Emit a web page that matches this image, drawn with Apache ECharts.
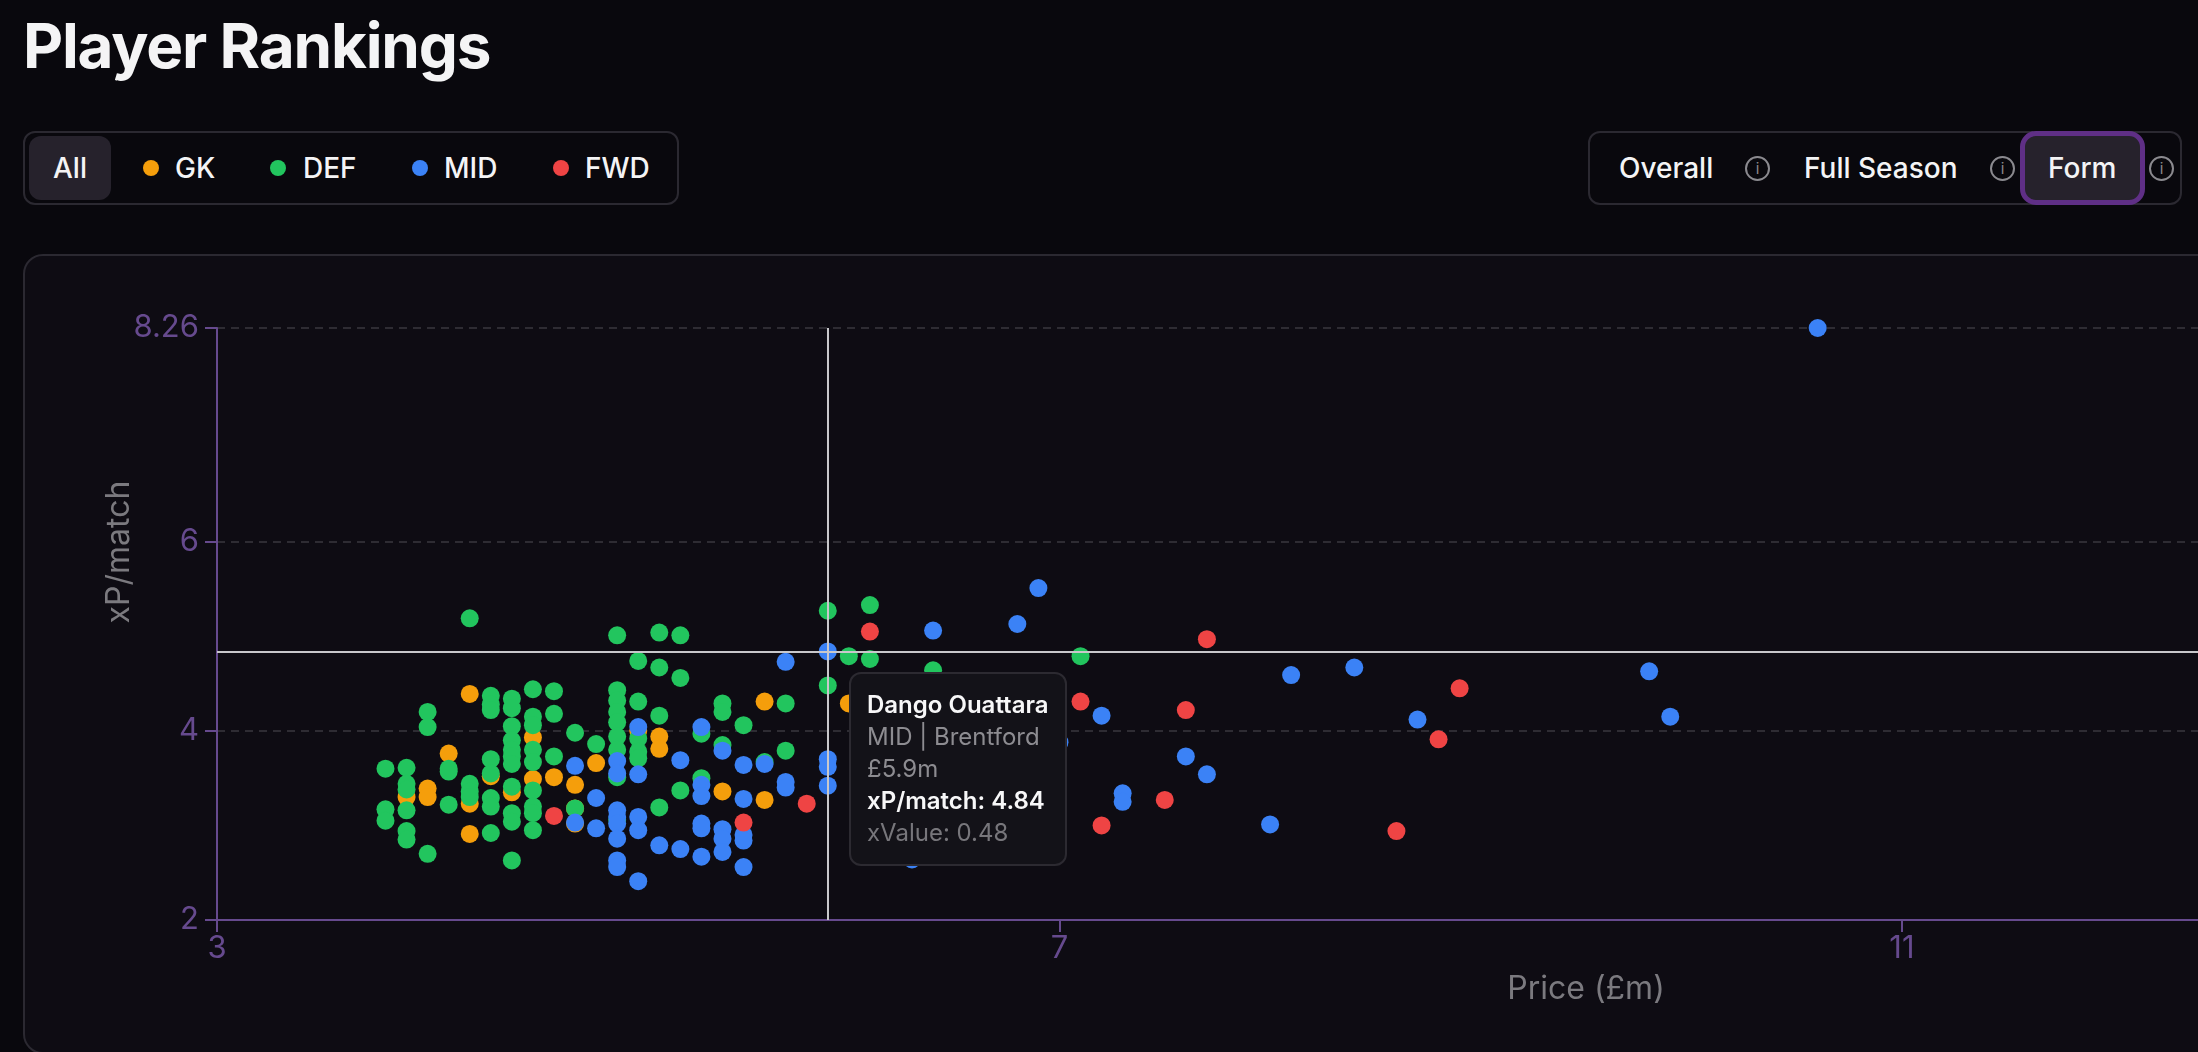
<!DOCTYPE html>
<html>
<head>
<meta charset="utf-8">
<title>Player Rankings</title>
<script src="https://cdn.jsdelivr.net/npm/echarts@6/dist/echarts.min.js"></script>
<style>
html,body{margin:0;width:2198px;height:1052px;overflow:hidden;background:#09080d;font-family:Inter,"Noto Sans",sans-serif;color:#f4f4f5}
h1{position:absolute;left:23px;top:10px;margin:0;font-size:62px;line-height:72px;font-weight:700;letter-spacing:-1.2px}
.box{position:absolute;top:131px;height:70px;border:2px solid #2b2931;border-radius:12px}
.item{position:absolute;top:168px;transform:translateY(-50%);font-size:28px;font-weight:500;line-height:32px;white-space:nowrap}
.dot{position:absolute;top:160px;width:16px;height:16px;border-radius:50%}
.info{position:absolute;top:156px;width:21px;height:21px;border:2px solid #8b8a8f;border-radius:50%;color:#8b8a8f;font-size:15px;line-height:21px;text-align:center}
#allBtn{position:absolute;left:29px;top:136px;width:82px;height:64px;border-radius:12px;background:#26222c}
#formBtn{position:absolute;left:2020px;top:131px;width:115px;height:64px;border:5px solid #5f2f86;border-radius:16px;background:#26222c}
#card{position:absolute;left:23px;top:254px;width:2400px;height:796px;background:#0e0c13;border:2px solid #2b2931;border-radius:20px}
#chart{position:absolute;left:0;top:0;width:2198px;height:1052px}
</style>
</head>
<body>
<h1>Player Rankings</h1>
<div class="box" style="left:23px;width:652px"></div>
<div id="allBtn"></div>
<div class="item" style="left:53px">All</div>
<div class="dot" style="left:143px;background:#f59e0b"></div><div class="item" style="left:175px">GK</div>
<div class="dot" style="left:270px;background:#22c55e"></div><div class="item" style="left:303px">DEF</div>
<div class="dot" style="left:412px;background:#3b82f6"></div><div class="item" style="left:444px">MID</div>
<div class="dot" style="left:553px;background:#ef4444"></div><div class="item" style="left:585px">FWD</div>

<div class="box" style="left:1588px;width:590px"></div>
<div id="formBtn"></div>
<div class="item" style="left:1619px">Overall</div><div class="info" style="left:1745px">i</div>
<div class="item" style="left:1804px">Full Season</div><div class="info" style="left:1990px">i</div>
<div class="item" style="left:2048px">Form</div><div class="info" style="left:2149px">i</div>

<div id="card"></div>
<div id="chart"></div>

<script>
'use strict'
// [price, xP/match]
const gkData = [[3.9,3.30],[4.0,3.39],[4.0,3.30],[4.1,3.76],[4.2,4.39],[4.2,3.23],[4.2,2.91],[4.3,3.52],[4.4,3.35],
    [4.5,3.93],[4.5,3.49],[4.6,3.51],[4.7,3.43],[4.7,3.18],[4.7,3.02],[4.8,3.66],[5.0,4.00],[5.1,3.94],[5.1,3.81],
    [5.4,3.36],[5.6,4.31],[5.6,3.27],[6.0,4.29]];
const defData = [[3.8,3.60],[3.8,3.17],[3.8,3.05],[3.9,3.61],[3.9,3.44],[3.9,3.38],[3.9,3.16],[3.9,2.94],[3.9,2.85],
    [4.0,4.20],[4.0,4.04],[4.0,2.70],[4.1,3.60],[4.1,3.57],[4.1,3.22],[4.2,5.19],[4.2,3.44],[4.2,3.36],[4.2,3.30],
    [4.3,4.37],[4.3,4.28],[4.3,4.22],[4.3,3.70],[4.3,3.55],[4.3,3.29],[4.3,3.20],[4.3,2.92],
    [4.4,4.34],[4.4,4.24],[4.4,4.05],[4.4,3.90],[4.4,3.80],[4.4,3.73],[4.4,3.65],[4.4,3.41],[4.4,3.13],[4.4,3.04],[4.4,2.63],
    [4.5,4.44],[4.5,4.15],[4.5,4.06],[4.5,3.80],[4.5,3.67],[4.5,3.37],[4.5,3.20],[4.5,3.13],[4.5,2.95],
    [4.6,4.42],[4.6,4.18],[4.6,3.73],[4.7,3.98],[4.7,3.18],[4.8,3.86],
    [4.9,5.01],[4.9,4.43],[4.9,4.32],[4.9,4.20],[4.9,4.09],[4.9,3.94],[4.9,3.80],[4.9,3.51],[4.9,3.06],
    [5.0,4.74],[5.0,4.31],[5.0,3.92],[5.0,3.78],[5.0,3.71],[5.1,5.04],[5.1,4.67],[5.1,4.16],[5.1,3.19],
    [5.2,5.01],[5.2,4.56],[5.2,3.37],[5.3,3.97],[5.3,3.50],[5.4,4.29],[5.4,4.20],[5.4,3.85],[5.5,4.06],
    [5.6,3.67],[5.7,4.29],[5.7,3.79],[5.9,5.27],[5.9,4.48],[6.0,4.79],[6.1,5.33],[6.1,4.76],[6.4,4.64],[7.1,4.79]];
const midData = [[4.7,3.63],[4.7,3.03],[4.8,3.29],[4.8,2.97],[4.9,3.68],[4.9,3.55],[4.9,3.16],[4.9,3.09],[4.9,3.02],[4.9,2.86],[4.9,2.63],[4.9,2.56],
    [5.0,4.04],[5.0,3.54],[5.0,3.09],[5.0,2.95],[5.0,2.41],[5.1,2.79],[5.2,3.69],[5.2,2.75],
    [5.3,4.04],[5.3,3.43],[5.3,3.31],[5.3,3.02],[5.3,2.97],[5.3,2.67],[5.4,3.79],[5.4,2.96],[5.4,2.86],[5.4,2.72],
    [5.5,3.64],[5.5,3.28],[5.5,2.90],[5.5,2.84],[5.5,2.56],[5.6,3.65],[5.7,4.73],[5.7,3.46],[5.7,3.40],
    [5.9,4.84],[5.9,3.70],[5.9,3.62],[5.9,3.42],[6.3,2.64],[6.4,5.06],[6.8,5.13],[6.9,5.51],[7.0,3.88],[7.2,4.16],
    [7.3,3.34],[7.3,3.25],[7.6,3.73],[7.7,3.54],[8.0,3.01],[8.1,4.59],[8.4,4.67],[8.7,4.12],[9.8,4.63],[9.9,4.15],[10.6,8.26]];
const fwdData = [[4.6,3.10],[5.5,3.03],[5.8,3.23],[6.1,5.05],[7.1,4.31],[7.2,3.00],[7.5,3.27],[7.6,4.22],[7.7,4.97],[8.6,2.94],[8.8,3.91],[8.9,4.45]];

const xTicks = [3, 7, 11, 15];
const yTicks = [2, 4, 6, 8.26];
const hovered = {name: 'Dango Ouattara', pos: 'MID', team: 'Brentford', price: 5.9, xp: 4.84, xValue: 0.48};

const axisColor = '#664a8e';
const nameColor = '#7b7a7f';

function dotSeries(name, color, data) {
    return {
        name: name,
        type: 'scatter',
        symbolSize: 18,
        data: data,
        itemStyle: {color: color, opacity: 1},
        emphasis: {disabled: true},
        animation: false
    };
}

const series = [
    dotSeries('GK', '#f59e0b', gkData),
    dotSeries('DEF', '#22c55e', defData),
    dotSeries('MID', '#3b82f6', midData),
    dotSeries('FWD', '#ef4444', fwdData)
];
series[3].markLine = {
    silent: true,
    symbol: 'none',
    animation: false,
    label: {show: false},
    lineStyle: {color: '#c8c8cb', width: 2, type: 'solid'},
    data: [{xAxis: hovered.price}, {yAxis: hovered.xp}]
};

const chart = echarts.init(document.getElementById('chart'));
chart.setOption({
    animation: false,
    textStyle: {fontFamily: 'Inter'},
    // the axis runs on past the right edge of the window
    grid: {left: 217, top: 328, right: -757, bottom: 132, outerBoundsMode: 'none'},
    xAxis: {
        type: 'value',
        min: 3,
        max: 16,
        name: 'Price (£m)',
        nameLocation: 'middle',
        nameGap: 53,
        nameTextStyle: {color: nameColor, fontSize: 32, fontFamily: 'Inter'},
        axisLine: {lineStyle: {color: axisColor, width: 2}},
        axisTick: {length: 12, customValues: xTicks, lineStyle: {color: axisColor, width: 2}},
        axisLabel: {customValues: xTicks, color: axisColor, fontSize: 31, margin: 13, fontFamily: 'Inter'},
        splitLine: {show: false}
    },
    yAxis: {
        type: 'value',
        min: 2,
        max: 8.26,
        name: 'xP/match',
        nameLocation: 'middle',
        nameGap: 82,
        nameMoveOverlap: false,
        nameTextStyle: {color: nameColor, fontSize: 32, fontFamily: 'Inter', padding: [0, 0, 0, 144]},
        axisLine: {show: true, lineStyle: {color: axisColor, width: 2}},
        axisTick: {show: true, length: 12, customValues: yTicks, lineStyle: {color: axisColor, width: 2}},
        axisLabel: {customValues: yTicks, color: axisColor, fontSize: 31, margin: 18, fontFamily: 'Inter'},
        splitLine: {show: true, lineStyle: {color: '#2e2c33', width: 2, type: [8, 6]}}
    },
    tooltip: {
        trigger: 'item',
        alwaysShowContent: true,
        transitionDuration: 0,
        position: [849, 672],
        padding: [15, 16],
        backgroundColor: '#131218',
        borderColor: '#2c2a31',
        borderWidth: 2,
        extraCssText: 'border-radius:12px;box-shadow:none;',
        formatter: function () {
            return '<div style="font:24px/32px Inter;color:#8d8c91;white-space:nowrap">' +
                '<div style="color:#f7f7f8;font-weight:600">' + hovered.name + '</div>' +
                '<div>' + hovered.pos + ' | ' + hovered.team + '</div>' +
                '<div>£' + hovered.price + 'm</div>' +
                '<div style="color:#f7f7f8;font-weight:600">xP/match: ' + hovered.xp + '</div>' +
                '<div style="color:#77767b">xValue: ' + hovered.xValue + '</div></div>';
        }
    },
    series: series
});
chart.dispatchAction({type: 'showTip', seriesIndex: 2, dataIndex: midData.findIndex(function (d) {
    return d[0] === hovered.price && d[1] === hovered.xp;
})});
</script>
</body>
</html>
